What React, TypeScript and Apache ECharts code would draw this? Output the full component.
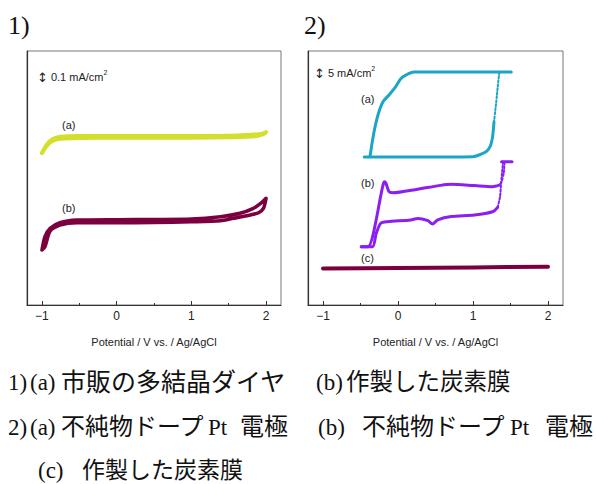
import React, { useEffect, useRef } from "react";
import * as echarts from "echarts";

// Panel 1 (current in mA/cm², arbitrary offset)
const p1aPotential = [-1, -0.95, -0.9, -0.85, -0.75, -0.5, 0, 1, 1.5, 1.8, 1.95, 2, 1.97, 1.85, 1.5, 1, 0, -0.5, -0.75, -0.85, -0.9, -0.95, -1];
const p1aCurrent = [1.077, 1.125, 1.158, 1.178, 1.192, 1.197, 1.197, 1.198, 1.2, 1.207, 1.214, 1.225, 1.212, 1.195, 1.189, 1.186, 1.186, 1.184, 1.178, 1.165, 1.148, 1.118, 1.077];

const p1bPotential = [-1, -0.96, -0.89, -0.76, -0.53, 0, 0.5, 1, 1.39, 1.65, 1.83, 1.94, 2, 1.965, 1.9, 1.79, 1.56, 1.39, 1, 0.5, 0, -0.53, -0.76, -0.89, -0.96, -1];
const p1bCurrent = [0.39, 0.485, 0.544, 0.584, 0.602, 0.605, 0.606, 0.609, 0.626, 0.65, 0.685, 0.725, 0.756, 0.685, 0.654, 0.638, 0.614, 0.597, 0.59, 0.585, 0.582, 0.583, 0.566, 0.524, 0.413, 0.39];

// Panel 2 (current in mA/cm², arbitrary offset)
const p2aPotential = [1.51, 1.2, 0.6, 0.21, 0.11, 0.04, -0.03, -0.12, -0.2, -0.26, -0.31, -0.35, -0.37, -0.38, -0.45, 0.5, 1.0, 1.1, 1.18, 1.23, 1.26, 1.28];
const p2aCurrent = [91.7, 91.7, 91.7, 91.7, 90.6, 89.2, 86.0, 82.7, 80.0, 75.5, 69.6, 63.0, 59.1, 58.3, 58.3, 58.3, 58.4, 59.3, 60.5, 62.5, 66.0, 72.0];
const p2aDotPotential = [1.28, 1.31, 1.33, 1.35];
const p2aDotCurrent = [72.0, 80.0, 86.0, 91.5];

const p2bLowPotential = [-0.49, -0.34, -0.29, -0.23, -0.14, 0.17, 0.26, 0.4, 0.46, 0.53, 0.71, 1.02, 1.26, 1.33];
const p2bLowCurrent = [22.95, 22.95, 28.2, 32.2, 32.8, 33.5, 34.1, 33.2, 31.9, 33.5, 34.8, 35.4, 36.7, 38.5];
const p2bRisePotential = [1.33, 1.36, 1.375, 1.4, 1.41];
const p2bRiseCurrent = [38.5, 42.6, 47.9, 55.8, 56.4];
const p2bTopPotential = [1.38, 1.52];
const p2bTopCurrent = [56.4, 56.4];
const p2bRetPotential = [1.42, 1.41, 1.38, 1.35];
const p2bRetCurrent = [56.2, 52.0, 48.5, 47.2];
const p2bUpPotential = [1.35, 1.26, 1.02, 0.71, 0.57, 0.26, -0.07, -0.12, -0.16, -0.18, -0.2, -0.4, -0.49];
const p2bUpCurrent = [47.2, 46.6, 47.0, 47.5, 47.1, 45.6, 44.2, 44.6, 47.9, 48.5, 47.2, 22.95, 22.95];

const p2cPotential = [-1, 0, 1, 2];
const p2cCurrent = [14.4, 14.6, 14.8, 15.1];

const majorTicks = [-1, 0, 1, 2];
const minorTicks = [-0.5, 0.5, 1.5];
const xAxisTitle = "Potential / V vs. / Ag/AgCl";

const zip = (xs: number[], ys: number[]) => xs.map((x, i) => [x, ys[i]]);

const C_YELLOW = "#d3df2c";
const C_MAROON = "#7c0040";
const C_CYAN = "#1ba5c6";
const C_PURPLE = "#8b1ff2";

const SANS = "'Liberation Sans', Arial, sans-serif";
const SERIF_JP = "'Liberation Serif', 'Noto Sans CJK JP', serif";

export default function App() {
  const ref = useRef<HTMLDivElement>(null);
  useEffect(() => {
    document.body.style.margin = "0";
    const chart = echarts.init(ref.current!, null, { renderer: "svg" });

    const mkX = (grid: number) => [
      {
        type: "value",
        gridIndex: grid,
        min: -1.2,
        max: 2.2,
        axisLine: { show: true, onZero: false, lineStyle: { color: "#333", width: 1.2 } },
        axisTick: { show: true, inside: true, length: 4, customValues: majorTicks, lineStyle: { color: "#333" } },
        axisLabel: {
          show: true,
          customValues: majorTicks,
          margin: 5,
          color: "#222",
          fontSize: 12,
          fontFamily: SANS,
          formatter: (v: number) => String(v).replace("-", "\u2212"),
        },
        splitLine: { show: false },
        name: xAxisTitle,
        nameLocation: "middle",
        nameGap: 31,
        nameTextStyle: { color: "#222", fontSize: 11, fontFamily: SANS },
      },
      {
        type: "value",
        gridIndex: grid,
        position: "bottom",
        min: -1.2,
        max: 2.2,
        axisLine: { show: false, onZero: false },
        axisTick: { show: true, inside: true, length: 2, customValues: minorTicks, lineStyle: { color: "#333" } },
        axisLabel: { show: false },
        splitLine: { show: false },
      },
    ];
    const mkY = (grid: number, max: number) => ({
      type: "value",
      gridIndex: grid,
      position: "left",
      min: 0,
      max,
      axisLine: { show: true, onZero: false, lineStyle: { color: "#333", width: 1.2 } },
      axisTick: { show: false },
      axisLabel: { show: false },
      splitLine: { show: false },
    });
    const line = (name: string, xi: number, yi: number, data: number[][], color: string, width: number, dotted = false) => ({
      name,
      type: "line",
      xAxisIndex: xi,
      yAxisIndex: yi,
      data,
      showSymbol: false,
      smooth: 0.25,
      lineStyle: { color, width, type: dotted ? "dotted" : "solid", cap: "round", join: "round" },
      silent: true,
    });

    const scaleLabel = (x: number, y: number, val: string) => ({
      type: "text",
      x,
      y,
      style: {
        text: `{a|\u2195}{t| ${val} mA/cm}{s|2}`,
        rich: {
          a: { fontFamily: "'DejaVu Sans'", fontSize: 13, fill: "#222", lineHeight: 16 },
          t: { fontFamily: SANS, fontSize: 11, fill: "#222", lineHeight: 16 },
          s: { fontFamily: SANS, fontSize: 7, fill: "#222", verticalAlign: "top", lineHeight: 16 },
        },
        verticalAlign: "middle",
      },
    });
    const small = (x: number, y: number, text: string) => ({
      type: "text",
      x,
      y,
      style: { text, fontFamily: SANS, fontSize: 11, fill: "#222", verticalAlign: "middle" },
    });
    const big = (x: number, y: number, text: string, size = 23) => ({
      type: "text",
      x,
      y,
      style: { text, fontFamily: SERIF_JP, fontSize: size, fill: "#111", verticalAlign: "middle" },
    });

    chart.setOption({
      animation: false,
      backgroundColor: "#fff",
      grid: [
        { left: 27, top: 51, width: 254, height: 254, show: true, borderColor: "#777", borderWidth: 1 },
        { left: 308, top: 51, width: 255, height: 254, show: true, borderColor: "#777", borderWidth: 1 },
      ],
      xAxis: [...mkX(0), ...mkX(1)],
      yAxis: [mkY(0, 1.8), mkY(1, 100)],
      series: [
        line("p1a", 0, 0, zip(p1aPotential, p1aCurrent), C_YELLOW, 4),
        line("p1b", 0, 0, zip(p1bPotential, p1bCurrent), C_MAROON, 3.5),
        line("p2a", 2, 1, zip(p2aPotential, p2aCurrent), C_CYAN, 3),
        line("p2aDot", 2, 1, zip(p2aDotPotential, p2aDotCurrent), C_CYAN, 2, true),
        line("p2bLow", 2, 1, zip(p2bLowPotential, p2bLowCurrent), C_PURPLE, 3),
        line("p2bRise", 2, 1, zip(p2bRisePotential, p2bRiseCurrent), C_PURPLE, 2, true),
        line("p2bTop", 2, 1, zip(p2bTopPotential, p2bTopCurrent), C_PURPLE, 3),
        line("p2bRet", 2, 1, zip(p2bRetPotential, p2bRetCurrent), C_PURPLE, 2, true),
        line("p2bUp", 2, 1, zip(p2bUpPotential, p2bUpCurrent), C_PURPLE, 3),
        line("p2c", 2, 1, zip(p2cPotential, p2cCurrent), C_MAROON, 4),
      ],
      graphic: [
        big(8, 25, "1)", 26),
        big(304, 25, "2)", 26),
        scaleLabel(37, 77, "0.1"),
        scaleLabel(314, 73, "5"),
        small(62, 125, "(a)"),
        small(62, 208, "(b)"),
        small(361, 99, "(a)"),
        small(361, 183, "(b)"),
        small(361, 258, "(c)"),
        // caption line 1
        big(8, 382, "1)"),
        big(30, 382, "(a)"),
        big(61, 382, "市販の多結晶ダイヤ", 25),
        big(316, 382, "(b)"),
        big(346, 382, "作製した炭素膜", 23.5),
        // caption line 2
        big(8, 427, "2)"),
        big(30, 427, "(a)"),
        big(61, 427, "不純物ドープ", 24),
        big(208, 427, "Pt"),
        big(240, 427, "電極", 24),
        big(318, 427, "(b)"),
        big(362, 427, "不純物ドープ", 24),
        big(510, 427, "Pt"),
        big(545, 427, "電極", 24),
        // caption line 3
        big(38, 470, "(c)"),
        big(82, 470, "作製した炭素膜", 23),
      ],
    });
    return () => chart.dispose();
  }, []);
  return <div ref={ref} style={{ width: 597, height: 484 }} />;
}
